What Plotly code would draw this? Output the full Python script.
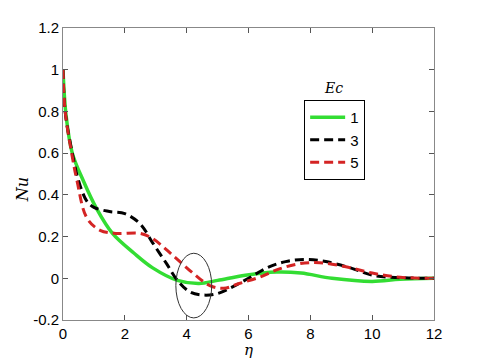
import plotly.graph_objects as go

# Ec = 1 (green, solid)
eta_ec1 = [0, 0.1, 0.3, 0.65, 1.1, 1.6, 2.3, 2.9, 3.7, 4.4, 5.0, 5.9, 6.9, 7.7, 8.7, 10.0, 10.9, 12]
nu_ec1 = [1.0, 0.78, 0.6, 0.47, 0.33, 0.215, 0.12, 0.05, -0.01, -0.025, -0.01, 0.015, 0.03, 0.025, 0.0, -0.015, -0.005, 0.0]

# Ec = 3 (black, dashed)
eta_ec3 = [0, 0.07, 0.3, 0.5, 0.77, 1.0, 1.5, 2.0, 2.5, 2.9, 3.35, 3.7, 4.1, 4.5, 4.95, 5.5, 6.0, 6.6, 7.2,
           7.85, 8.5, 9.3, 10.0, 10.9, 12]
nu_ec3 = [1.0, 0.8, 0.6, 0.47, 0.37, 0.34, 0.32, 0.31, 0.26, 0.17, 0.07, -0.01, -0.065, -0.08, -0.075, -0.04,
          0.0, 0.05, 0.08, 0.09, 0.08, 0.05, 0.015, 0.003, 0.0]

# Ec = 5 (red, dashed)
eta_ec5 = [0, 0.07, 0.28, 0.45, 0.77, 1.2, 1.75, 2.5, 2.9, 3.55, 4.2, 4.75, 5.2, 5.7, 6.35, 7.0, 7.65, 8.3,
           9.15, 10.0, 10.9, 12]
nu_ec5 = [1.0, 0.8, 0.6, 0.47, 0.29, 0.23, 0.215, 0.215, 0.19, 0.11, 0.025, -0.035, -0.048, -0.025, 0.005,
          0.045, 0.07, 0.075, 0.055, 0.025, 0.005, 0.0]

# Highlight ellipse around the crossing region
ellipse_x = [3.65, 4.81]
ellipse_y = [-0.19, 0.12]

font_family = "Liberation Sans, Arial"

fig = go.Figure()
fig.add_trace(go.Scatter(x=eta_ec1, y=nu_ec1, name="1", mode="lines", line_shape="spline",
                         line=dict(color="#33dd33", width=3.5)))
fig.add_trace(go.Scatter(x=eta_ec3, y=nu_ec3, name="3", mode="lines", line_shape="spline",
                         line=dict(color="black", width=3, dash="9px,5px")))
fig.add_trace(go.Scatter(x=eta_ec5, y=nu_ec5, name="5", mode="lines", line_shape="spline",
                         line=dict(color="#d42424", width=3, dash="9px,5px")))

fig.add_shape(type="circle", xref="x", yref="y", x0=ellipse_x[0], x1=ellipse_x[1],
              y0=ellipse_y[0], y1=ellipse_y[1], line=dict(color="#333333", width=1))

# Legend title sits above the box
fig.add_annotation(text="<i>Ec</i>", xref="paper", yref="paper", x=0.728, y=0.795, showarrow=False,
                   xanchor="center", yanchor="middle", font=dict(family="DejaVu Serif", size=14, color="black"))

# Axis titles as annotations for exact placement
fig.add_annotation(text="<i>η</i>", xref="paper", yref="paper", x=0.5, y=-0.104, showarrow=False,
                   xanchor="center", yanchor="middle", font=dict(family="DejaVu Serif", size=15, color="black"))
fig.add_annotation(text="<i>Nu</i>", xref="paper", yref="paper", x=-0.11, y=0.445, showarrow=False,
                   textangle=-90, xanchor="center", yanchor="middle",
                   font=dict(family="DejaVu Serif", size=16, color="black"))

axis_common = dict(
    showgrid=False, zeroline=False, showline=True, linecolor="#888888", linewidth=1,
    mirror="ticks", ticks="inside", ticklen=5, tickcolor="#555555", automargin=False,
    tickfont=dict(family=font_family, size=15, color="black"),
)

# page body adds an 8px offset, so the figure is sized a bit smaller
fig.update_layout(
    width=472, height=352,
    margin=dict(l=55, r=46, t=20, b=40),
    plot_bgcolor="white", paper_bgcolor="white",
    showlegend=True,
    legend=dict(x=0.65, y=0.753, xanchor="left", yanchor="top", bordercolor="black", borderwidth=1,
                bgcolor="white", font=dict(family=font_family, size=15, color="black"),
                itemwidth=35, tracegroupgap=0),
)
fig.update_xaxes(range=[0, 12], tickvals=[0, 2, 4, 6, 8, 10, 12], **axis_common)
fig.update_yaxes(range=[-0.2, 1.2], tickvals=[-0.2, 0, 0.2, 0.4, 0.6, 0.8, 1, 1.2],
                 ticktext=["-0.2", "0", "0.2", "0.4", "0.6", "0.8", "1", "1.2"], **axis_common)

fig.write_html("out.html")
